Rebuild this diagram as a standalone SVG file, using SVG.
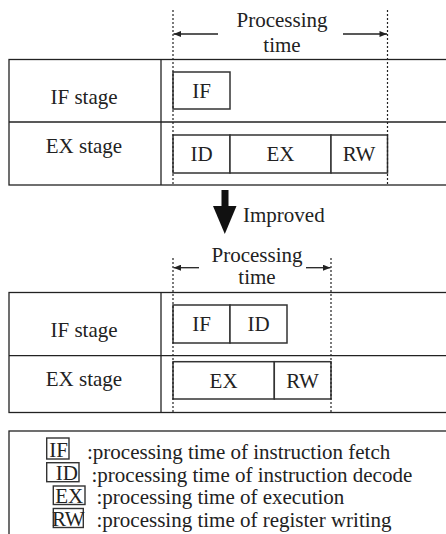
<svg xmlns="http://www.w3.org/2000/svg" width="446" height="534" viewBox="0 0 446 534" font-family="'Liberation Serif', 'Times New Roman', 'DejaVu Serif', serif">
<defs>
<style>
text{font-family:'Liberation Serif','Times New Roman','DejaVu Serif',serif;font-size:21px;fill:#222}
.mid{text-anchor:middle}
.tbl{fill:none;stroke:#222;stroke-width:1.3}
.box{fill:#fff;stroke:#333;stroke-width:1.5}
.dot{stroke:#222;stroke-width:1.2;stroke-dasharray:2,2;fill:none}
.arr{stroke:#222;stroke-width:1.3;fill:none}
.lbox{fill:none;stroke:#333;stroke-width:1.4}
</style>
<marker id="ah" viewBox="0 0 10 8" refX="10" refY="4" markerWidth="8" markerHeight="6" markerUnits="userSpaceOnUse" orient="auto">
<path d="M0,0 L10,4 L0,8 Z" fill="#222"/>
</marker>
</defs>

<g id="table1">
<rect class="tbl" x="9" y="59.5" width="440" height="125.5"/>
<line class="tbl" x1="9" y1="122" x2="449" y2="122"/>
<line class="tbl" x1="161" y1="59.5" x2="161" y2="185"/>
<text x="84" y="103.5" class="mid">IF stage</text>
<text x="84" y="153" class="mid">EX stage</text>
</g>

<g id="timeline1">
<rect class="box" x="173" y="72" width="57" height="37"/>
<text x="201.5" y="97.5" class="mid">IF</text>
<rect class="box" x="173" y="135" width="57" height="38"/>
<text x="201.5" y="161" class="mid">ID</text>
<rect class="box" x="230" y="135" width="101" height="38"/>
<text x="280.5" y="161" class="mid">EX</text>
<rect class="box" x="331" y="135" width="56.5" height="38"/>
<text x="359" y="161" class="mid">RW</text>
<text x="282" y="27" class="mid">Processing</text>
<text x="282" y="52" class="mid">time</text>
</g>

<g id="arrow-improved">
<rect x="221.5" y="190" width="7" height="17" fill="#111"/>
<polygon points="213,206 236.5,206 224.8,234" fill="#111"/>
<text x="243" y="222">Improved</text>
</g>

<g id="table2">
<rect class="tbl" x="9" y="292.5" width="440" height="120"/>
<line class="tbl" x1="9" y1="355.7" x2="449" y2="355.7"/>
<line class="tbl" x1="161" y1="292.5" x2="161" y2="412.5"/>
<text x="84" y="337" class="mid">IF stage</text>
<text x="84" y="386" class="mid">EX stage</text>
</g>

<g id="timeline2">
<rect class="box" x="173" y="305" width="57" height="38"/>
<text x="201.5" y="331" class="mid">IF</text>
<rect class="box" x="230" y="305" width="57" height="38"/>
<text x="258.5" y="331" class="mid">ID</text>
<rect class="box" x="173" y="361.7" width="101.3" height="37.3"/>
<text x="223.6" y="387.5" class="mid">EX</text>
<rect class="box" x="274.3" y="361.7" width="56.7" height="37.3"/>
<text x="302.6" y="387.5" class="mid">RW</text>
<text x="257" y="262" class="mid">Processing</text>
<text x="257" y="284" class="mid">time</text>
</g>

<g id="connectors">
<line class="dot" x1="173" y1="10" x2="173" y2="184"/>
<line class="dot" x1="387.5" y1="10" x2="387.5" y2="184"/>
<line class="arr" x1="218" y1="34" x2="173.5" y2="34" marker-end="url(#ah)"/>
<line class="arr" x1="343" y1="34" x2="387" y2="34" marker-end="url(#ah)"/>
<line class="dot" x1="173" y1="258" x2="173" y2="412"/>
<line class="dot" x1="331" y1="258" x2="331" y2="412"/>
<line class="arr" x1="199" y1="267.7" x2="173.5" y2="267.7" marker-end="url(#ah)"/>
<line class="arr" x1="306" y1="267.7" x2="330.5" y2="267.7" marker-end="url(#ah)"/>
</g>

<g id="legend">
<rect class="tbl" x="9" y="431" width="440" height="110"/>
<rect class="lbox" x="46.7" y="438" width="22.3" height="21"/>
<text x="68" y="457" text-anchor="end">IF</text>
<text x="87" y="459">:processing time of instruction fetch</text>
<rect class="lbox" x="46.7" y="462.7" width="32.3" height="19"/>
<text x="78" y="480" text-anchor="end">ID</text>
<text x="91.5" y="482">:processing time of instruction decode</text>
<rect class="lbox" x="53.3" y="486" width="31.7" height="18.5"/>
<text x="69.2" y="503" class="mid">EX</text>
<text x="96.5" y="504">:processing time of execution</text>
<rect class="lbox" x="53.3" y="508.5" width="30" height="19"/>
<text x="68.3" y="526" class="mid">RW</text>
<text x="96.5" y="527">:processing time of register writing</text>
</g>
</svg>
